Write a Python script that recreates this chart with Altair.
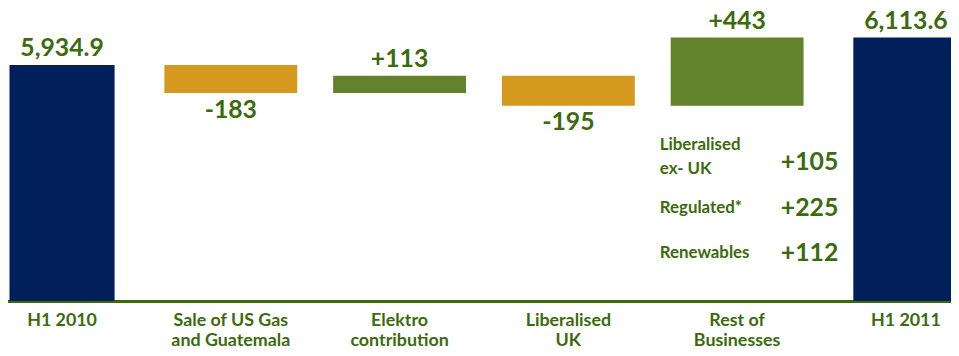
import altair as alt
import pandas as pd

# ---- data ----
categories = ["H1 2010", "Sale of US Gas|and Guatemala", "Elektro|contribution",
              "Liberalised|UK", "Rest of|Businesses", "H1 2011"]
values = [5934.9, -183, 113, -195, 443, 6113.6]
kinds = ["total", "delta", "delta", "delta", "delta", "total"]

sub_labels = ["Liberalised|ex- UK", "Regulated*", "Renewables"]
sub_values = [105, 225, 112]
sub_parent = categories[4]

# ---- derived waterfall table ----
rows = []
running = 0.0
for c, v, k in zip(categories, values, kinds):
    if k == "total":
        start, end = 0.0, v
        running = v
        label = f"{v:,.1f}"
        color = "total"
    else:
        start, end = running, running + v
        running = end
        label = f"{int(v):+d}"
        color = "up" if v > 0 else "down"
    rows.append(dict(cat=c, start=start, end=end, top=max(start, end),
                     bottom=min(start, end), label=label, color=color, kind=k))
df = pd.DataFrame(rows)

sub_df = pd.DataFrame(dict(cat=[sub_parent] * len(sub_labels), sub=sub_labels,
                           num=[f"+{v}" for v in sub_values],
                           multi=["|" in s for s in sub_labels]))

GREEN_TXT = "#3A6B0C"
FONT = "Lato"

xenc = alt.X(
    "cat:N",
    sort=categories,
    scale=alt.Scale(domain=categories, range=[-30.6, 990.6], paddingInner=0, paddingOuter=0),
    axis=alt.Axis(
        title=None, labelAngle=0, ticks=False, tickSize=0, grid=False,
        labelExpr="split(datum.label, '|')",
        labelFont=FONT, labelFontSize=18, labelFontWeight="bold", labelColor=GREEN_TXT,
        labelLineHeight=20, labelPadding=11,
        domainColor=GREEN_TXT, domainWidth=3,
    ),
)
yscale = alt.Scale(domain=[4399, 6296], nice=False, zero=False)

bars = alt.Chart(df).mark_bar(clip=True).encode(
    x=xenc,
    y=alt.Y("start:Q", scale=yscale, axis=None),
    y2="end:Q",
    color=alt.Color("color:N", scale=alt.Scale(domain=["total", "up", "down"],
                                               range=["#001F5B", "#62822C", "#D4991F"]),
                    legend=None),
    size=alt.condition(alt.datum.kind == "total", alt.value(106), alt.value(134)),
)

labels_up = alt.Chart(df).transform_filter(alt.datum.color != "down").mark_text(
    font=FONT, fontSize=25, fontWeight="bold", color=GREEN_TXT, dy=-9, baseline="alphabetic"
).encode(x=xenc, y=alt.Y("top:Q", scale=yscale, axis=None), text="label:N")

labels_down = alt.Chart(df).transform_filter(alt.datum.color == "down").mark_text(
    font=FONT, fontSize=25, fontWeight="bold", color=GREEN_TXT, dy=25, baseline="alphabetic"
).encode(x=xenc, y=alt.Y("bottom:Q", scale=yscale, axis=None), text="label:N")

main = alt.layer(bars, labels_up, labels_down)

sub_y = alt.Y("sub:N", sort=sub_labels,
              scale=alt.Scale(type="point", domain=sub_labels, range=[154, 246], padding=0),
              axis=None)

sub_text_single = alt.Chart(sub_df).transform_filter("!datum.multi").mark_text(
    font=FONT, fontSize=17, fontWeight="bold", color=GREEN_TXT, align="left",
    baseline="middle", dx=-78
).encode(x=xenc, y=sub_y, text="sub:N")

sub_text_multi = alt.Chart(sub_df).transform_filter("datum.multi").mark_text(
    font=FONT, fontSize=17, fontWeight="bold", color=GREEN_TXT, align="left",
    baseline="middle", dx=-78, dy=-17.5, lineBreak="|", lineHeight=24
).encode(x=xenc, y=sub_y, text="sub:N")

sub_num = alt.Chart(sub_df).mark_text(
    font=FONT, fontSize=25, fontWeight="bold", color=GREEN_TXT, align="right",
    baseline="middle", dx=102
).encode(x=xenc, y=sub_y, text="num:N")

annot = alt.layer(sub_text_single, sub_text_multi, sub_num)

chart = alt.layer(main, annot).resolve_scale(y="independent").properties(
    width=951, height=294,
    autosize=alt.AutoSizeParams(type="none"),
    padding={"left": 0, "top": 0, "right": 0, "bottom": 47},
    background="white",
).configure_view(strokeWidth=0)

chart.save("out.html", embed_options={"renderer": "svg", "actions": False})
